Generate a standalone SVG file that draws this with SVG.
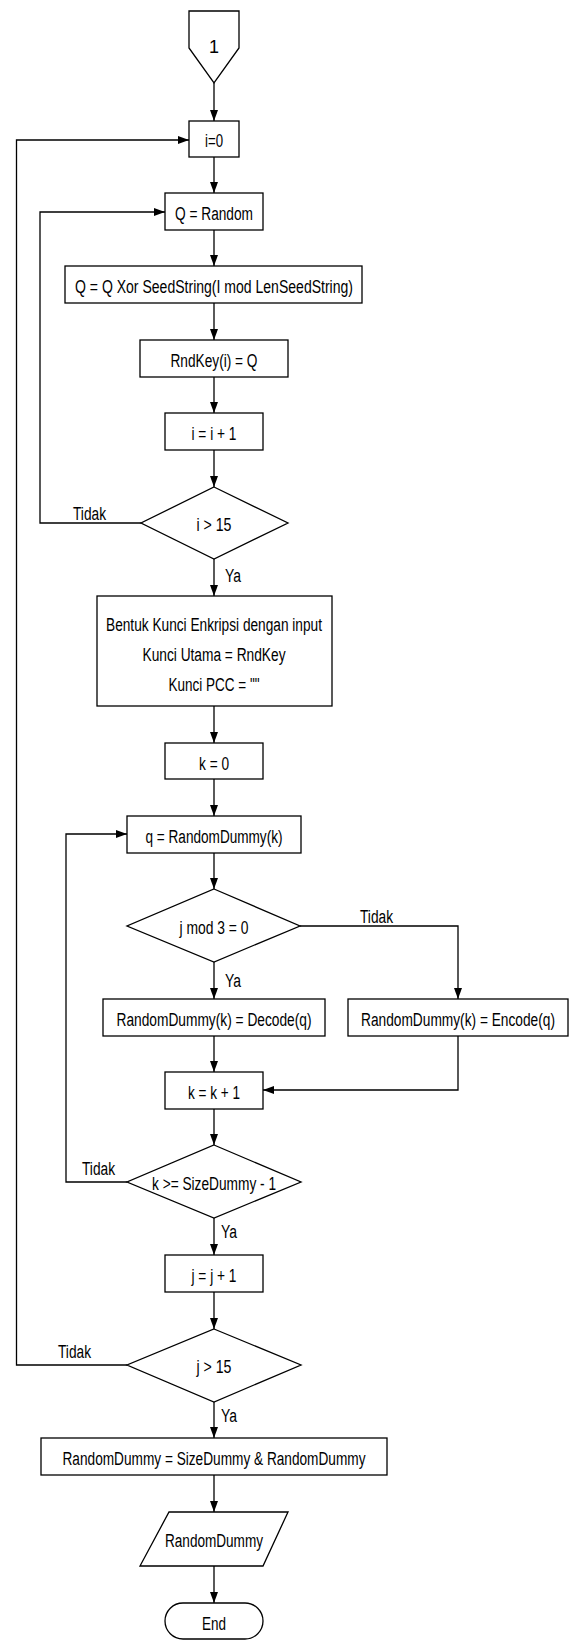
<svg xmlns="http://www.w3.org/2000/svg" width="573" height="1645" viewBox="0 0 573 1645">
<style>
.s{fill:#fff;stroke:#000;stroke-width:1.3}
.t{font-family:"Liberation Sans",Arial,sans-serif;font-size:18px;fill:#000;text-anchor:middle}
.l{font-family:"Liberation Sans",Arial,sans-serif;font-size:18px;fill:#000;text-anchor:start}
.c{fill:none;stroke:#000;stroke-width:1.3}
</style>
<defs>
<marker id="a" markerUnits="userSpaceOnUse" markerWidth="11" markerHeight="8" refX="11" refY="4" orient="auto">
<path d="M0,0 L11,4 L0,8 z" fill="#000"/>
</marker>
</defs>
<g id="connectors">
<path class="c" d="M214,83 V121" marker-end="url(#a)"/>
<path class="c" d="M214,157 V193" marker-end="url(#a)"/>
<path class="c" d="M214,230 V266" marker-end="url(#a)"/>
<path class="c" d="M214,303 V340" marker-end="url(#a)"/>
<path class="c" d="M214,377 V413" marker-end="url(#a)"/>
<path class="c" d="M214,450 V487" marker-end="url(#a)"/>
<path class="c" d="M214,559 V596" marker-end="url(#a)"/>
<path class="c" d="M141,523 H40 V212 H165" marker-end="url(#a)"/>
<path class="c" d="M214,706 V743" marker-end="url(#a)"/>
<path class="c" d="M214,779 V816" marker-end="url(#a)"/>
<path class="c" d="M214,853 V889" marker-end="url(#a)"/>
<path class="c" d="M214,962 V999" marker-end="url(#a)"/>
<path class="c" d="M300,926 H458 V999" marker-end="url(#a)"/>
<path class="c" d="M214,1036 V1072" marker-end="url(#a)"/>
<path class="c" d="M458,1036 V1090 H263" marker-end="url(#a)"/>
<path class="c" d="M214,1109 V1145" marker-end="url(#a)"/>
<path class="c" d="M127,1182 H66 V834 H127" marker-end="url(#a)"/>
<path class="c" d="M214,1218 V1255" marker-end="url(#a)"/>
<path class="c" d="M214,1292 V1329" marker-end="url(#a)"/>
<path class="c" d="M127,1365 H16.5 V140 H189" marker-end="url(#a)"/>
<path class="c" d="M214,1402 V1438" marker-end="url(#a)"/>
<path class="c" d="M214,1475 V1512" marker-end="url(#a)"/>
<path class="c" d="M214,1566 V1603" marker-end="url(#a)"/>
<text class="l" x="73" y="520" textLength="33" lengthAdjust="spacingAndGlyphs">Tidak</text>
<text class="l" x="225" y="582" textLength="16" lengthAdjust="spacingAndGlyphs">Ya</text>
<text class="l" x="360" y="923" textLength="33" lengthAdjust="spacingAndGlyphs">Tidak</text>
<text class="l" x="225" y="987" textLength="16" lengthAdjust="spacingAndGlyphs">Ya</text>
<text class="l" x="82" y="1175" textLength="33" lengthAdjust="spacingAndGlyphs">Tidak</text>
<text class="l" x="221" y="1238" textLength="16" lengthAdjust="spacingAndGlyphs">Ya</text>
<text class="l" x="58" y="1358" textLength="33" lengthAdjust="spacingAndGlyphs">Tidak</text>
<text class="l" x="221" y="1422" textLength="16" lengthAdjust="spacingAndGlyphs">Ya</text>
</g>
<g id="start">
<path class="s" d="M189,11 H239 V48 L214,83 L189,48 Z"/>
<text class="t" x="214" y="53">1</text>
</g>
<g id="i0">
<rect class="s" x="189" y="121" width="50" height="36"/>
<text class="t" x="214" y="147" textLength="18" lengthAdjust="spacingAndGlyphs">i=0</text>
</g>
<g id="qrandom">
<rect class="s" x="165" y="193" width="98" height="37"/>
<text class="t" x="214" y="220" textLength="78" lengthAdjust="spacingAndGlyphs">Q = Random</text>
</g>
<g id="qxor">
<rect class="s" x="65" y="266" width="297" height="37"/>
<text class="t" x="214" y="293" textLength="278" lengthAdjust="spacingAndGlyphs">Q = Q Xor SeedString(I mod LenSeedString)</text>
</g>
<g id="rndkey">
<rect class="s" x="140" y="340" width="148" height="37"/>
<text class="t" x="214" y="367" textLength="87" lengthAdjust="spacingAndGlyphs">RndKey(i) = Q</text>
</g>
<g id="iinc">
<rect class="s" x="165" y="413" width="98" height="37"/>
<text class="t" x="214" y="440" textLength="45" lengthAdjust="spacingAndGlyphs">i = i + 1</text>
</g>
<g id="dec1">
<path class="s" d="M214,487 L288,523 L214,559 L141,523 Z"/>
<text class="t" x="214" y="531" textLength="35" lengthAdjust="spacingAndGlyphs">i &gt; 15</text>
</g>
<g id="bentuk">
<rect class="s" x="97" y="596" width="235" height="110"/>
<text class="t" x="214" y="631" textLength="216" lengthAdjust="spacingAndGlyphs">Bentuk Kunci Enkripsi dengan input</text>
<text class="t" x="214" y="661" textLength="143" lengthAdjust="spacingAndGlyphs">Kunci Utama = RndKey</text>
<text class="t" x="214" y="691" textLength="91" lengthAdjust="spacingAndGlyphs">Kunci PCC = ""</text>
</g>
<g id="k0">
<rect class="s" x="165" y="743" width="98" height="36"/>
<text class="t" x="214" y="770" textLength="30" lengthAdjust="spacingAndGlyphs">k = 0</text>
</g>
<g id="qdummy">
<rect class="s" x="127" y="816" width="174" height="37"/>
<text class="t" x="214" y="843" textLength="137" lengthAdjust="spacingAndGlyphs">q = RandomDummy(k)</text>
</g>
<g id="dec2">
<path class="s" d="M214,889 L300,926 L214,962 L127,926 Z"/>
<text class="t" x="214" y="934" textLength="69" lengthAdjust="spacingAndGlyphs">j mod 3 = 0</text>
</g>
<g id="decode">
<rect class="s" x="103" y="999" width="222" height="37"/>
<text class="t" x="214" y="1026" textLength="195" lengthAdjust="spacingAndGlyphs">RandomDummy(k) = Decode(q)</text>
</g>
<g id="encode">
<rect class="s" x="348" y="999" width="220" height="37"/>
<text class="t" x="458" y="1026" textLength="194" lengthAdjust="spacingAndGlyphs">RandomDummy(k) = Encode(q)</text>
</g>
<g id="kinc">
<rect class="s" x="165" y="1072" width="98" height="37"/>
<text class="t" x="214" y="1099" textLength="52" lengthAdjust="spacingAndGlyphs">k = k + 1</text>
</g>
<g id="dec3">
<path class="s" d="M214,1145 L301,1182 L214,1218 L127,1182 Z"/>
<text class="t" x="214" y="1190" textLength="124" lengthAdjust="spacingAndGlyphs">k &gt;= SizeDummy - 1</text>
</g>
<g id="jinc">
<rect class="s" x="165" y="1255" width="98" height="37"/>
<text class="t" x="214" y="1282" textLength="45" lengthAdjust="spacingAndGlyphs">j = j + 1</text>
</g>
<g id="dec4">
<path class="s" d="M214,1329 L301,1365 L214,1402 L127,1365 Z"/>
<text class="t" x="214" y="1373" textLength="35" lengthAdjust="spacingAndGlyphs">j &gt; 15</text>
</g>
<g id="concat">
<rect class="s" x="41" y="1438" width="346" height="37"/>
<text class="t" x="214" y="1465" textLength="303" lengthAdjust="spacingAndGlyphs">RandomDummy = SizeDummy &amp; RandomDummy</text>
</g>
<g id="output">
<path class="s" d="M169,1512 H288 L263,1566 H140 Z"/>
<text class="t" x="214" y="1547" textLength="98" lengthAdjust="spacingAndGlyphs">RandomDummy</text>
</g>
<g id="end">
<rect class="s" x="165" y="1603" width="98" height="36" rx="18" ry="18"/>
<text class="t" x="214" y="1630" textLength="24" lengthAdjust="spacingAndGlyphs">End</text>
</g>
</svg>
